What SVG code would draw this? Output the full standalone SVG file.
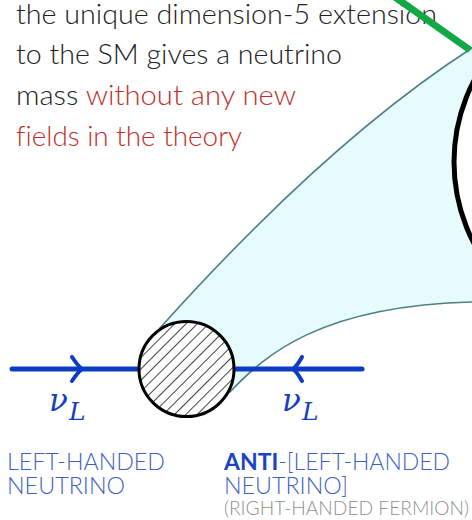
<svg xmlns="http://www.w3.org/2000/svg" width="472" height="520" viewBox="0 0 472 520">
<style>
.txt{font-family:Lato,"Open Sans","Liberation Sans",Arial,sans-serif;font-weight:300;font-size:28px;fill:#222;font-variant-ligatures:none}
.red{fill:#bf2f2a}
.lbl{font-family:Lato,"Open Sans","Liberation Sans",Arial,sans-serif;font-weight:300;font-size:23px;fill:#3f5fc6}
.bold{font-weight:700;fill:#1a44c4}
.gray{font-family:Lato,"Open Sans","Liberation Sans",Arial,sans-serif;font-weight:300;font-size:19px;fill:#8f8f8f}
.nu{font-family:"DejaVu Serif","Liberation Serif",serif;font-style:italic;fill:#1540c0}
.fermion{stroke:#0d3cc4;stroke-width:5;fill:none;stroke-linecap:round}
.chev{stroke:#0d3cc4;stroke-width:4;fill:none;stroke-linecap:round;stroke-linejoin:round}
</style>
<defs>
<pattern id="hatch" width="8" height="8" patternUnits="userSpaceOnUse" patternTransform="rotate(45)">
<line x1="0" y1="0" x2="0" y2="8" stroke="#111" stroke-width="1.6"/>
</pattern>
</defs>
<rect width="472" height="520" fill="#fff"/>
<g id="text">
<text class="txt" x="16" y="24" textLength="421" lengthAdjust="spacingAndGlyphs">the unique dimension-5 extension</text>
<text class="txt" x="16" y="64" textLength="326" lengthAdjust="spacingAndGlyphs">to the SM gives a neutrino</text>
<text class="txt" x="16" y="105" textLength="280" lengthAdjust="spacingAndGlyphs">mass <tspan class="red">without any new</tspan></text>
<text class="txt red" x="16" y="146" textLength="226" lengthAdjust="spacingAndGlyphs">fields in the theory</text>
</g>
<g id="cone">
<path d="M160,328 C230,250 345,130 472,48 L490,40 L490,302 L472,302 C320,306 265,355 230,392 Z" fill="#e6fbfc" stroke="#4e7f86" stroke-width="1.6"/>
</g>
<g id="green-line">
<line x1="392" y1="-5" x2="470" y2="50" stroke="#12a845" stroke-width="7"/>
</g>
<g id="big-blob">
<circle cx="630" cy="162" r="176" fill="#fff" stroke="#000" stroke-width="5"/>
</g>
<g id="connectors">
<line class="fermion" x1="12" y1="369" x2="362" y2="369"/>
<path class="chev" d="M72,357 Q78,366 82,369 Q78,372 72,381"/>
<path class="chev" d="M302,357 Q297,366 293,369 Q297,372 302,381"/>
</g>
<g id="vertex">
<circle cx="186.5" cy="369" r="47.5" fill="#fff"/>
<circle cx="186.5" cy="369" r="47.5" fill="url(#hatch)" stroke="#000" stroke-width="3"/>
</g>
<g id="label-left">
<text class="nu" x="49" y="411" font-size="31">ν</text>
<text class="nu" x="69" y="420" font-size="25">L</text>
<text class="lbl" x="7" y="470" textLength="158" lengthAdjust="spacingAndGlyphs">LEFT-HANDED</text>
<text class="lbl" x="7" y="494" textLength="118" lengthAdjust="spacingAndGlyphs">NEUTRINO</text>
</g>
<g id="label-right">
<text class="nu" x="282" y="411" font-size="31">ν</text>
<text class="nu" x="302" y="420" font-size="25">L</text>
<text class="lbl" x="224" y="470" textLength="226" lengthAdjust="spacingAndGlyphs"><tspan class="bold">ANTI</tspan>-[LEFT-HANDED</text>
<text class="lbl" x="224" y="494" textLength="124" lengthAdjust="spacingAndGlyphs">NEUTRINO]</text>
<text class="gray" x="224" y="515" textLength="245" lengthAdjust="spacingAndGlyphs">(RIGHT-HANDED FERMION)</text>
</g>
</svg>
